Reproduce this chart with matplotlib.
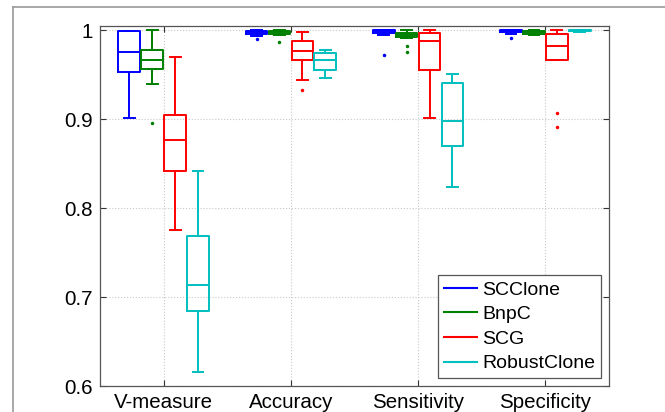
import matplotlib
matplotlib.use("Agg")
import numpy as np
import matplotlib.pyplot as plt
from matplotlib.lines import Line2D

plt.rcParams['font.family'] = ['Liberation Sans', 'DejaVu Sans']

metrics = ['V-measure', 'Accuracy', 'Sensitivity', 'Specificity']
methods = ['SCClone', 'BnpC', 'SCG', 'RobustClone']
colors = ['#0000FF', '#008000', '#FF0000', '#00BFBF']

# five numbers per metric: [whisker low, q1, median, q3, whisker high]
scclone = [[0.901, 0.953, 0.976, 0.999, 0.999],
           [0.994, 0.996, 0.998, 0.999, 1.000],
           [0.995, 0.997, 0.999, 1.000, 1.000],
           [0.996, 0.998, 0.999, 1.000, 1.000]]
bnpc = [[0.940, 0.957, 0.967, 0.978, 1.000],
        [0.995, 0.996, 0.998, 0.999, 1.000],
        [0.992, 0.993, 0.995, 0.997, 1.000],
        [0.995, 0.996, 0.998, 0.999, 1.000]]
scg = [[0.776, 0.842, 0.877, 0.905, 0.970],
       [0.944, 0.967, 0.977, 0.988, 0.998],
       [0.901, 0.956, 0.988, 0.997, 1.000],
       [0.967, 0.967, 0.983, 0.996, 1.000]]
robustclone = [[0.616, 0.684, 0.714, 0.769, 0.842],
               [0.946, 0.956, 0.967, 0.975, 0.978],
               [0.824, 0.870, 0.898, 0.941, 0.951],
               [0.998, 0.9995, 1.000, 1.000, 1.000]]

# outliers per metric
scclone_out = [[], [0.990], [0.972], [0.992]]
bnpc_out = [[0.896], [0.987], [0.983, 0.976], []]
scg_out = [[], [0.933], [], [0.9075, 0.891]]
robustclone_out = [[], [], [], []]

data = [scclone, bnpc, scg, robustclone]
outs = [scclone_out, bnpc_out, scg_out, robustclone_out]

fig = plt.figure(figsize=(6.65, 4.12), dpi=100)
ax = fig.add_axes([0.1504, 0.0631, 0.7654, 0.8738])

offsets = [-0.27, -0.09, 0.09, 0.27]
x = np.arange(1, len(metrics) + 1)

for i, (vals, fl, col) in enumerate(zip(data, outs, colors)):
    stats = []
    for v, f in zip(vals, fl):
        stats.append({'whislo': v[0], 'q1': v[1], 'med': v[2],
                      'q3': v[3], 'whishi': v[4], 'fliers': f})
    ax.bxp(stats, positions=x + offsets[i], widths=0.17,
           showfliers=True, manage_ticks=False,
           boxprops=dict(color=col, lw=1.4),
           medianprops=dict(color=col, lw=1.4),
           whiskerprops=dict(color=col, lw=1.4, linestyle='-'),
           capprops=dict(color=col, lw=1.4),
           flierprops=dict(marker='.', markersize=3, markerfacecolor=col,
                           markeredgecolor=col, linestyle='none'))

ax.set_xlim(0.5, 4.5)
ax.set_ylim(0.6, 1.005)
ax.set_xticks(x)
ax.set_xticklabels(metrics)
ax.set_yticks([0.6, 0.7, 0.8, 0.9, 1.0])
ax.set_yticklabels(['0.6', '0.7', '0.8', '0.9', '1'])
ax.tick_params(direction='in', length=4, width=0.8, labelsize=14.8,
               top=True, right=True, colors='#333333', labelcolor='black')
ax.tick_params(axis='y', pad=5)
ax.tick_params(axis='x', pad=5)
ax.grid(True, linestyle=':', color='#c8c8c8', lw=0.8)
for s in ax.spines.values():
    s.set_color('#555555')
    s.set_linewidth(0.9)

handles = [Line2D([0], [0], color=c, lw=1.5) for c in colors]
leg = ax.legend(handles, methods, loc='lower right', fontsize=14,
                handlelength=1.7, handletextpad=0.3, labelspacing=0.36,
                borderpad=0.3, borderaxespad=0.4, fancybox=False,
                framealpha=1, edgecolor='#555555')
leg.get_frame().set_linewidth(0.9)

# outer frame of the panel
fig.add_artist(Line2D([12.5 / 665, 12.5 / 665], [0, 1 - 7 / 412],
                      transform=fig.transFigure, color='#999999', lw=1.2))
fig.add_artist(Line2D([12.5 / 665, 1], [1 - 7 / 412, 1 - 7 / 412],
                      transform=fig.transFigure, color='#999999', lw=1.2))

fig.savefig('out.png', dpi=100)
